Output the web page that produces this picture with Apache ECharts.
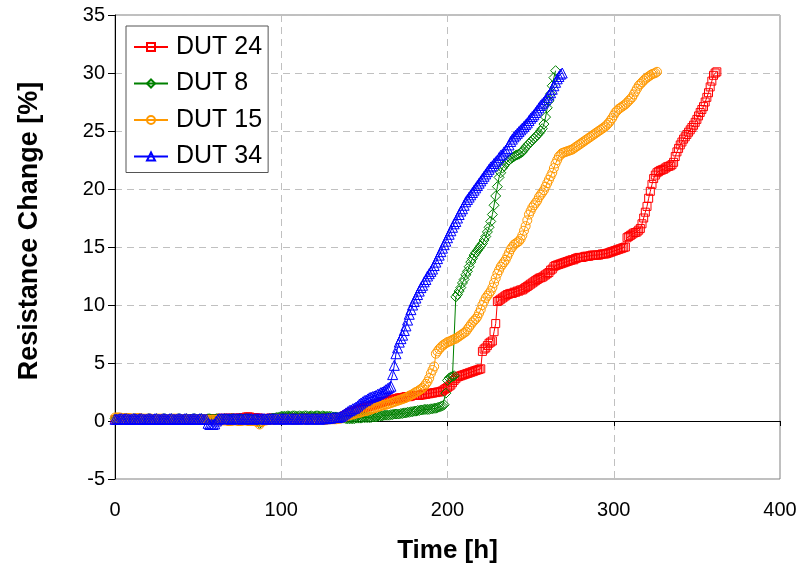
<!DOCTYPE html>
<html>
<head>
<meta charset="utf-8">
<script src="https://cdn.jsdelivr.net/npm/echarts@6.0.0/dist/echarts.min.js"></script>
<style>
  html, body { margin: 0; padding: 0; background: #fff; }
  #chart { width: 803px; height: 573px; }
</style>
</head>
<body>
<div id="chart"></div>
<script>
// Resistance change [%] logged once per hour, starting at hour 0.
// Each array holds one reading per hour: element i is the value at hour i.
const dut24Values = [
  0.1,0.15,0.15,0.2,0.2,0.15,0.2,0.2,0.2,0.2,
  0.15,0.2,0.2,0.15,0.2,0.2,0.2,0.15,0.2,0.2,
  0.2,0.15,0.2,0.2,0.2,0.2,0.15,0.2,0.2,0.2,
  0.2,0.15,0.2,0.2,0.2,0.15,0.2,0.2,0.2,0.2,
  0.15,0.2,0.2,0.2,0.2,0.15,0.2,0.2,0.2,0.2,
  0.2,0.2,0.15,0.2,0.2,0.2,0.15,0.2,0.2,0.2,
  0.2,0.2,0.2,0.2,0.25,0.2,0.2,0.2,0.25,0.25,
  0.2,0.2,0.25,0.25,0.2,0.25,0.25,0.3,0.3,0.35,
  0.35,0.35,0.3,0.3,0.3,0.25,0.25,0.25,0.2,0.2,
  0.2,0.2,0.2,0.25,0.25,0.2,0.25,0.25,0.2,0.2,
  0.25,0.25,0.25,0.3,0.3,0.3,0.3,0.3,0.3,0.25,
  0.25,0.3,0.3,0.3,0.3,0.3,0.3,0.3,0.25,0.3,
  0.3,0.3,0.3,0.3,0.3,0.3,0.3,0.25,0.25,0.25,
  0.25,0.25,0.25,0.25,0.2,0.25,0.3,0.35,0.45,0.5,
  0.6,0.7,0.75,0.8,0.85,0.9,0.95,1.0,1.05,1.1,
  1.15,1.2,1.25,1.3,1.3,1.35,1.4,1.45,1.5,1.55,
  1.6,1.65,1.7,1.7,1.75,1.8,1.85,1.85,1.9,1.9,
  1.95,2.0,2.0,2.0,2.05,2.1,2.1,2.1,2.15,2.2,
  2.2,2.2,2.2,2.2,2.25,2.25,2.3,2.3,2.35,2.35,
  2.4,2.4,2.45,2.45,2.5,2.5,2.55,2.6,2.7,2.8,
  2.9,3.0,3.1,3.3,3.5,3.65,3.8,3.85,3.9,3.95,
  4.0,4.05,4.1,4.15,4.2,4.25,4.3,4.35,4.4,4.45,
  4.5,6.0,6.2,6.3,6.5,6.7,6.8,6.9,7.7,8.4,
  10.3,10.4,10.5,10.6,10.7,10.8,10.9,10.95,11.0,11.0,
  11.1,11.1,11.2,11.2,11.3,11.3,11.4,11.5,11.6,11.7,
  11.8,11.9,12.0,12.1,12.2,12.3,12.35,12.4,12.5,12.6,
  12.7,12.8,13.0,13.1,13.3,13.4,13.45,13.5,13.55,13.6,
  13.65,13.7,13.75,13.8,13.85,13.9,13.9,14.0,14.05,14.1,
  14.1,14.1,14.15,14.2,14.2,14.2,14.25,14.3,14.3,14.3,
  14.3,14.3,14.35,14.4,14.4,14.4,14.45,14.5,14.55,14.6,
  14.65,14.7,14.75,14.8,14.85,14.9,14.95,15.0,15.8,15.9,
  16.0,16.1,16.2,16.25,16.3,16.45,16.6,17.0,17.5,18.0,
  18.5,19.2,19.8,20.4,20.9,21.2,21.4,21.5,21.6,21.65,
  21.7,21.8,21.9,21.95,22.0,22.1,22.3,22.8,23.2,23.5,
  23.8,24.05,24.3,24.5,24.7,24.9,25.1,25.3,25.5,25.75,
  26.0,26.3,26.6,26.85,27.1,27.5,27.9,28.3,28.8,29.3,
  29.8,30.0,30.1
];

const dut8Values = [
  0.2,0.2,0.2,0.15,0.15,0.15,0.15,0.2,0.2,0.15,
  0.15,0.2,0.2,0.15,0.15,0.15,0.2,0.15,0.15,0.15,
  0.2,0.2,0.15,0.15,0.15,0.2,0.15,0.15,0.15,0.2,
  0.2,0.15,0.15,0.15,0.2,0.15,0.15,0.15,0.2,0.2,
  0.15,0.15,0.15,0.2,0.15,0.15,0.15,0.2,0.2,0.15,
  0.15,0.15,0.2,0.15,0.15,0.15,0.2,0.2,0.15,0.15,
  0.15,0.2,0.2,0.15,0.15,0.15,0.2,0.15,0.15,0.15,
  0.2,0.2,0.15,0.15,0.15,0.2,0.15,0.15,0.15,0.2,
  0.2,0.15,0.1,0.1,0.1,0.05,0.0,-0.2,-0.1,0.05,
  0.1,0.15,0.15,0.2,0.2,0.25,0.25,0.3,0.3,0.35,
  0.4,0.4,0.4,0.4,0.45,0.4,0.4,0.45,0.45,0.4,
  0.4,0.45,0.4,0.4,0.45,0.45,0.4,0.4,0.45,0.4,
  0.4,0.45,0.45,0.4,0.4,0.45,0.4,0.4,0.4,0.4,
  0.4,0.35,0.35,0.35,0.3,0.3,0.25,0.25,0.25,0.2,
  0.2,0.2,0.2,0.2,0.2,0.25,0.25,0.25,0.25,0.3,
  0.3,0.3,0.3,0.3,0.3,0.35,0.35,0.35,0.4,0.4,
  0.45,0.45,0.5,0.5,0.5,0.5,0.55,0.55,0.6,0.6,
  0.6,0.6,0.65,0.65,0.7,0.7,0.75,0.75,0.8,0.8,
  0.85,0.85,0.9,0.9,0.95,0.95,1.0,1.0,1.0,1.0,
  1.05,1.05,1.1,1.1,1.15,1.2,1.25,1.3,1.4,2.4,
  3.5,3.7,3.8,3.85,3.9,10.7,10.9,11.2,11.5,11.9,
  12.2,12.6,12.9,13.3,13.7,14.0,14.3,14.5,14.7,14.9,
  15.1,15.3,15.6,15.9,16.3,16.7,17.2,17.8,18.6,19.4,
  20.2,21.0,21.4,21.8,22.0,22.2,22.35,22.5,22.6,22.7,
  22.8,22.9,22.95,23.0,23.1,23.2,23.4,23.6,23.75,23.9,
  24.05,24.2,24.35,24.5,24.65,24.8,25.0,25.2,25.6,26.2,
  27.0,27.6,28.2,28.9,29.6,30.2
];

const dut15Values = [
  0.3,0.3,0.3,0.3,0.25,0.25,0.25,0.25,0.25,0.25,
  0.2,0.2,0.2,0.25,0.25,0.25,0.2,0.2,0.2,0.2,
  0.2,0.2,0.2,0.15,0.15,0.15,0.2,0.2,0.2,0.15,
  0.15,0.15,0.15,0.15,0.15,0.2,0.2,0.2,0.15,0.15,
  0.15,0.15,0.15,0.15,0.15,0.1,0.1,0.15,0.15,0.15,
  0.1,0.1,0.1,0.15,0.15,0.1,0.1,0.1,0.1,0.1,
  0.1,0.1,0.05,0.05,0.05,0.05,0.05,0.05,0.0,0.0,
  0.0,0.05,0.05,0.05,0.0,0.0,0.0,0.05,0.05,0.05,
  0.0,0.0,0.0,0.0,0.0,-0.05,-0.1,-0.3,-0.1,0.0,
  0.05,0.05,0.1,0.1,0.1,0.1,0.1,0.15,0.15,0.15,
  0.1,0.1,0.1,0.15,0.15,0.15,0.15,0.1,0.1,0.1,
  0.1,0.15,0.15,0.15,0.1,0.1,0.1,0.15,0.15,0.15,
  0.1,0.1,0.1,0.15,0.15,0.15,0.1,0.1,0.15,0.15,
  0.15,0.15,0.15,0.15,0.2,0.2,0.25,0.3,0.35,0.4,
  0.45,0.5,0.55,0.55,0.6,0.65,0.7,0.7,0.75,0.8,
  0.85,0.85,0.9,0.95,1.0,1.05,1.1,1.15,1.2,1.25,
  1.3,1.35,1.4,1.4,1.45,1.5,1.55,1.6,1.65,1.7,
  1.75,1.8,1.85,1.9,1.95,2.0,2.1,2.15,2.25,2.3,
  2.4,2.5,2.55,2.65,2.75,2.85,3.0,3.2,3.4,3.7,
  4.1,4.4,4.7,5.8,6.0,6.2,6.35,6.5,6.6,6.7,
  6.8,6.85,6.9,7.0,7.05,7.1,7.2,7.3,7.4,7.5,
  7.6,7.7,7.9,8.1,8.3,8.5,8.65,8.8,9.0,9.3,
  9.6,10.0,10.3,10.6,10.8,11.0,11.2,11.5,11.9,12.3,
  12.7,13.0,13.3,13.5,13.7,13.9,14.2,14.5,14.8,15.0,
  15.2,15.3,15.4,15.5,15.7,16.0,16.4,16.8,17.3,17.8,
  18.1,18.4,18.6,18.8,19.0,19.3,19.5,19.7,19.9,20.2,
  20.5,20.8,21.1,21.4,21.8,22.2,22.5,22.8,22.95,23.1,
  23.15,23.2,23.25,23.3,23.35,23.4,23.5,23.6,23.7,23.8,
  23.9,24.0,24.1,24.2,24.3,24.4,24.5,24.6,24.7,24.8,
  24.9,25.0,25.1,25.2,25.3,25.4,25.55,25.7,25.9,26.1,
  26.35,26.6,26.75,26.9,27.0,27.1,27.2,27.3,27.45,27.6,
  27.75,27.9,28.15,28.4,28.65,28.9,29.05,29.2,29.35,29.5,
  29.6,29.7,29.8,29.9,29.95,30.0,30.1
];

const dut34Values = [
  0.15,0.15,0.15,0.2,0.2,0.15,0.2,0.2,0.15,0.15,
  0.15,0.2,0.2,0.15,0.15,0.2,0.2,0.15,0.15,0.15,
  0.2,0.2,0.15,0.15,0.2,0.2,0.15,0.15,0.15,0.2,
  0.2,0.15,0.15,0.2,0.2,0.15,0.15,0.15,0.2,0.2,
  0.15,0.15,0.2,0.2,0.15,0.15,0.15,0.2,0.2,0.15,
  0.15,0.2,0.2,0.15,0.15,0.15,-0.2,-0.3,-0.3,-0.3,
  -0.25,0.0,0.15,0.2,0.2,0.2,0.2,0.2,0.2,0.2,
  0.15,0.2,0.2,0.2,0.2,0.2,0.2,0.15,0.2,0.2,
  0.2,0.2,0.2,0.15,0.2,0.2,0.2,0.2,0.2,0.2,
  0.2,0.15,0.2,0.2,0.2,0.2,0.2,0.2,0.15,0.2,
  0.2,0.2,0.2,0.2,0.15,0.2,0.2,0.2,0.2,0.2,
  0.15,0.2,0.2,0.2,0.2,0.2,0.2,0.15,0.2,0.2,
  0.2,0.2,0.2,0.15,0.2,0.2,0.2,0.2,0.25,0.25,
  0.25,0.3,0.3,0.3,0.3,0.35,0.4,0.5,0.6,0.7,
  0.8,0.9,0.95,1.05,1.1,1.2,1.3,1.45,1.55,1.65,
  1.75,1.8,1.9,2.0,2.05,2.1,2.15,2.2,2.3,2.35,
  2.45,2.5,2.6,2.7,2.8,2.9,3.0,4.0,4.8,5.8,
  6.3,6.8,7.1,7.4,7.8,8.2,8.7,9.2,9.6,10.0,
  10.3,10.6,10.9,11.2,11.5,11.7,12.0,12.2,12.5,12.7,
  12.9,13.1,13.4,13.7,14.0,14.3,14.6,14.9,15.2,15.5,
  15.8,16.1,16.4,16.7,17.0,17.2,17.5,17.8,18.1,18.3,
  18.6,18.9,19.1,19.3,19.5,19.7,19.9,20.1,20.3,20.5,
  20.7,20.9,21.1,21.3,21.5,21.7,21.9,22.0,22.2,22.35,
  22.5,22.7,22.9,23.0,23.2,23.35,23.5,23.8,24.1,24.3,
  24.5,24.65,24.8,24.95,25.1,25.25,25.4,25.55,25.7,25.9,
  26.1,26.25,26.4,26.6,26.8,27.0,27.2,27.35,27.5,27.7,
  27.9,28.1,28.3,28.6,28.9,29.2,29.5,29.7,29.9,30.0
];

const seriesNames = ['DUT 24', 'DUT 8', 'DUT 15', 'DUT 34'];
const seriesValues = [dut24Values, dut8Values, dut15Values, dut34Values];
const seriesColors = ['#ff0000', '#008000', '#ff9900', '#0000ff'];
const seriesSymbols = ['rect', 'diamond', 'circle', 'triangle'];
const symbolSizes = [8, 10, 9, 10];

const xTicks = { min: 0, max: 400, interval: 100 };
const yTicks = { min: -5, max: 35, interval: 5 };

const FONT = '"Liberation Sans", Arial, sans-serif';

// pair every reading with its hour
const toPoints = (values) => values.map((v, hour) => [hour, v]);

const chart = echarts.init(document.getElementById('chart'), null, { renderer: 'canvas' });

const series = seriesNames.map((name, i) => ({
  name: name,
  type: 'line',
  xAxisIndex: 0,
  yAxisIndex: 0,
  data: toPoints(seriesValues[i]),
  symbol: seriesSymbols[i],
  symbolSize: symbolSizes[i],
  showSymbol: true,
  showAllSymbol: true,
  smooth: false,
  sampling: null,
  clip: true,
  lineStyle: { color: seriesColors[i], width: 1 },
  itemStyle: { color: 'rgba(0,0,0,0)', borderColor: seriesColors[i], borderWidth: 1 },
  emphasis: { disabled: true }
}));

const option = {
  animation: false,
  backgroundColor: '#fff',
  textStyle: { fontFamily: FONT },
  grid: {
    left: 115, top: 15, width: 665, height: 464,
    containLabel: false,
    outerBoundsMode: 'none',
    show: true,
    borderColor: '#808080',
    borderWidth: 1,
    backgroundColor: 'transparent'
  },
  legend: {
    data: seriesNames,
    orient: 'vertical',
    left: 126,
    top: 26,
    padding: [8, 6, 3, 7],
    itemWidth: 34,
    itemHeight: 10,
    itemGap: 10.5,
    backgroundColor: '#fff',
    borderColor: '#555',
    borderWidth: 1,
    borderRadius: 0,
    textStyle: { fontFamily: FONT, fontSize: 25, lineHeight: 26, color: '#000', padding: [0, 0, 0, 3] }
  },
  xAxis: [
    {
      // tick labels and vertical grid lines along the bottom edge
      type: 'value', min: xTicks.min, max: xTicks.max, interval: xTicks.interval, position: 'bottom',
      axisLine: { show: false, onZero: false },
      axisTick: { show: false },
      axisLabel: { fontFamily: FONT, fontSize: 20, color: '#000', margin: 21 },
      splitLine: { show: true, lineStyle: { color: '#c0c0c0', width: 1, type: [7, 5] } },
      name: 'Time [h]', nameLocation: 'middle', nameGap: 59,
      nameTextStyle: { fontFamily: FONT, fontSize: 26, fontWeight: 'bold', color: '#000' }
    },
    {
      // axis line with ticks crossing at zero resistance change
      type: 'value', min: xTicks.min, max: xTicks.max, interval: xTicks.interval, position: 'bottom',
      axisLine: { show: true, onZero: true, lineStyle: { color: '#000', width: 1 } },
      axisTick: { show: true, inside: false, length: 5, lineStyle: { color: '#000' } },
      axisLabel: { show: false },
      splitLine: { show: false }
    }
  ],
  yAxis: {
    type: 'value', min: yTicks.min, max: yTicks.max, interval: yTicks.interval,
    axisLine: { show: true, onZero: false, lineStyle: { color: '#000', width: 1 } },
    axisTick: { show: true, inside: false, length: 7, lineStyle: { color: '#000' } },
    axisLabel: { fontFamily: FONT, fontSize: 20, color: '#000', margin: 10 },
    splitLine: { show: true, lineStyle: { color: '#c0c0c0', width: 1, type: [7, 5] } },
    name: 'Resistance Change [%]', nameLocation: 'middle', nameGap: 72, nameRotate: 90,
    nameTextStyle: { fontFamily: FONT, fontSize: 27, fontWeight: 'bold', color: '#000', padding: [0, 0, 0, 32] }
  },
  series: series
};

chart.setOption(option);
</script>
</body>
</html>
